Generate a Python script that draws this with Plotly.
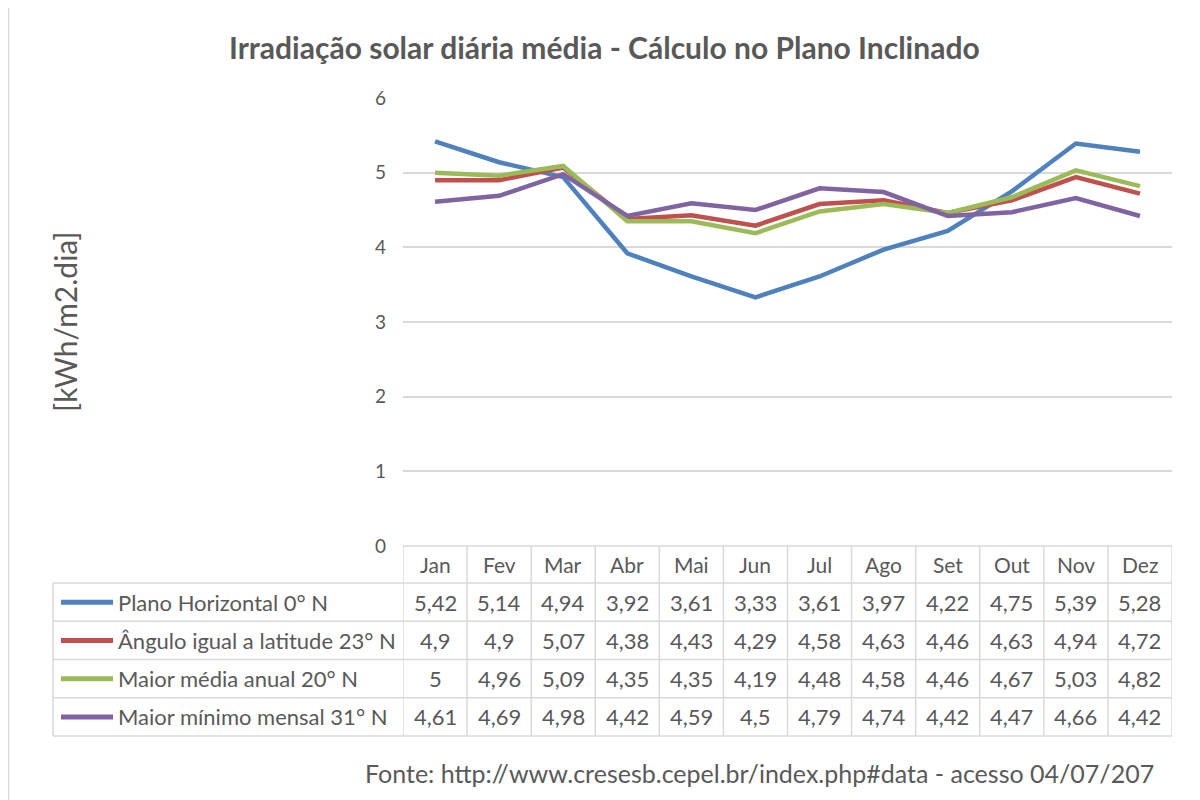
import plotly.graph_objects as go

months = ["Jan", "Fev", "Mar", "Abr", "Mai", "Jun", "Jul", "Ago", "Set", "Out", "Nov", "Dez"]
series_names = [
    "Plano Horizontal 0° N",
    "Ângulo igual a latitude 23° N",
    "Maior média anual 20° N",
    "Maior mínimo mensal 31° N",
]
plano_horizontal = [5.42, 5.14, 4.94, 3.92, 3.61, 3.33, 3.61, 3.97, 4.22, 4.75, 5.39, 5.28]
angulo_latitude = [4.9, 4.9, 5.07, 4.38, 4.43, 4.29, 4.58, 4.63, 4.46, 4.63, 4.94, 4.72]
maior_media = [5.0, 4.96, 5.09, 4.35, 4.35, 4.19, 4.48, 4.58, 4.46, 4.67, 5.03, 4.82]
maior_minimo = [4.61, 4.69, 4.98, 4.42, 4.59, 4.5, 4.79, 4.74, 4.42, 4.47, 4.66, 4.42]
series_values = [plano_horizontal, angulo_latitude, maior_media, maior_minimo]
colors = ["#4F81BD", "#C0504D", "#9BBB59", "#8064A2"]

title = "Irradiação solar diária média - Cálculo no Plano Inclinado"
y_title = "[kWh/m2.dia]"
footer = "Fonte: http://www.cresesb.cepel.br/index.php#data - acesso 04/07/207"

FONT = "Lato"
TXT = "#595959"
GRID = "#D9D9D9"

# page offset from the default body margin
OFF = 8
W, H = 1200 - OFF, 800 - OFF
# plot area in page pixels
PL, PR, PT, PB = 403, 1172, 98, 546
L, T = PL - OFF, PT - OFF
R, B = W - (PR - OFF), H - (PB - OFF)
pw, ph = PR - PL, PB - PT


def px_x(p):
    return (p - PL) / pw


def px_y(p):
    return (PB - p) / ph


fig = go.Figure()
for name, vals, c in zip(series_names, series_values, colors):
    fig.add_trace(go.Scatter(
        x=list(range(len(months))), y=vals, mode="lines", name=name,
        line=dict(color=c, width=4.5), showlegend=False, hoverinfo="x+y"))

shapes = []
annotations = []

# data table geometry (page pixels)
header_top = PB
header_bot = 583
row_h = 38.25
row_edges = [header_bot + i * row_h for i in range(len(series_names) + 1)]
legend_left = 53

# horizontal lines
shapes.append(dict(type="line", xref="x", yref="paper", x0=-0.5, x1=len(months) - 0.5,
                   y0=px_y(header_top), y1=px_y(header_top), line=dict(color=GRID, width=1.5)))
for e in row_edges:
    shapes.append(dict(type="line", xref="paper", yref="paper", x0=px_x(legend_left), x1=1,
                       y0=px_y(e), y1=px_y(e), line=dict(color=GRID, width=1.5)))
# vertical lines
for i in range(len(months) + 1):
    shapes.append(dict(type="line", xref="x", yref="paper", x0=i - 0.5, x1=i - 0.5,
                       y0=px_y(header_top), y1=px_y(row_edges[-1]), line=dict(color=GRID, width=1.5)))
shapes.append(dict(type="line", xref="paper", yref="paper", x0=px_x(legend_left), x1=px_x(legend_left),
                   y0=px_y(row_edges[0]), y1=px_y(row_edges[-1]), line=dict(color=GRID, width=1.5)))

# header labels
for i, m in enumerate(months):
    annotations.append(dict(x=i, y=px_y((header_top + header_bot) / 2), xref="x", yref="paper",
                            text=m, showarrow=False, xanchor="center", yanchor="middle",
                            font=dict(family=FONT, size=21, color=TXT)))


def fmt(v):
    return f"{v:g}".replace(".", ",")


for r, (name, vals, c) in enumerate(zip(series_names, series_values, colors)):
    yc = px_y((row_edges[r] + row_edges[r + 1]) / 2)
    shapes.append(dict(type="line", xref="paper", yref="paper", x0=px_x(61), x1=px_x(113),
                       y0=yc, y1=yc, line=dict(color=c, width=5)))
    annotations.append(dict(x=px_x(116), y=yc, xref="paper", yref="paper", text=name,
                            xanchor="left", yanchor="middle", showarrow=False,
                            font=dict(family=FONT, size=22, color=TXT)))
    for i, v in enumerate(vals):
        annotations.append(dict(x=i, y=yc, xref="x", yref="paper", text=fmt(v), showarrow=False,
                                xanchor="center", yanchor="middle",
                                font=dict(family=FONT, size=22, color=TXT)))

# title, axis title, footer
annotations.append(dict(x=px_x(604), y=px_y(47), xref="paper", yref="paper", text="<b>" + title + "</b>",
                        xanchor="center", yanchor="middle",
                        showarrow=False, font=dict(family=FONT, size=30, color=TXT)))
annotations.append(dict(x=px_x(65), y=px_y(322), xref="paper", yref="paper", text=y_title, textangle=-90,
                        xanchor="center", yanchor="middle",
                        showarrow=False, font=dict(family=FONT, size=30, color=TXT)))
annotations.append(dict(x=px_x(1156), y=px_y(773), xref="paper", yref="paper", text=footer,
                        xanchor="right", yanchor="middle", showarrow=False,
                        font=dict(family=FONT, size=25, color=TXT)))

# outer chart border
shapes.append(dict(type="rect", xref="paper", yref="paper", x0=px_x(8.5), x1=px_x(1215),
                   y0=px_y(6.5), y1=px_y(815), line=dict(color=GRID, width=1.5)))

fig.update_layout(
    width=W, height=H,
    margin=dict(l=L, r=R, t=T, b=B, autoexpand=False),
    paper_bgcolor="white", plot_bgcolor="white",
    font=dict(family=FONT, color=TXT),
    xaxis=dict(range=[-0.5, len(months) - 0.5], showticklabels=False, showgrid=False,
               zeroline=False, showline=False, fixedrange=True),
    yaxis=dict(range=[0, 6], dtick=1, showgrid=True, gridcolor=GRID, gridwidth=1.5,
               zeroline=False, showline=False, ticks="", ticklabelstandoff=16,
               tickfont=dict(family=FONT, size=19, color=TXT), fixedrange=True),
    shapes=shapes, annotations=annotations,
)

fig.write_html("out.html")
